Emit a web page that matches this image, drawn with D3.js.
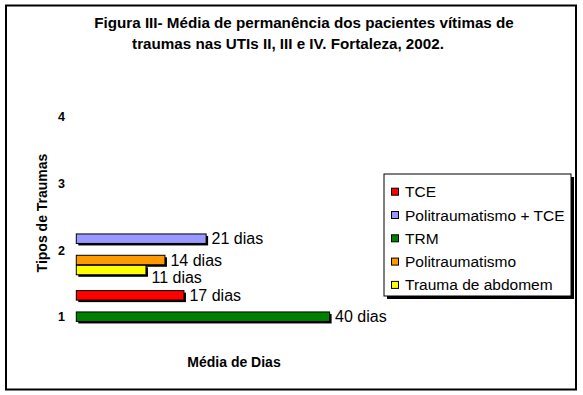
<!DOCTYPE html>
<html>
<head>
<meta charset="utf-8">
<script src="https://cdn.jsdelivr.net/npm/d3@7"></script>
<style>
  html, body { margin: 0; padding: 0; background: #fff; }
  svg { display: block; font-family: "Liberation Sans", Arial, sans-serif; }
</style>
</head>
<body>
<script>
// ---- Data ----
const titleLines = ["Figura III- Média de permanência dos pacientes vítimas de",
                    "traumas nas UTIs II, III e IV. Fortaleza, 2002."];
const seriesNames = ["TCE", "Politraumatismo + TCE", "TRM", "Politraumatismo", "Trauma de abdomem"];
const seriesColors = ["#FF0000", "#9999FF", "#008000", "#FF9900", "#FFFF00"];
const seriesDays = [17, 20.5, 40, 14, 11];          // Média de dias
const seriesType = [1.32, 2.17, 1.0, 1.85, 1.70];   // position on "Tipos de Traumas" axis
const yTicks = [1, 2, 3, 4];
const yTitle = "Tipos de Traumas";
const xTitle = "Média de Dias";
const labelSuffix = " dias";

// ---- Setup ----
const W = 583, H = 395;
const svg = d3.select("body").append("svg").attr("width", W).attr("height", H);

// outer frame
svg.append("rect").attr("x", 6).attr("y", 5.5).attr("width", 570).attr("height", 384)
  .attr("fill", "#fff").attr("stroke", "#000").attr("stroke-width", 2);

// title
const titleX = [304, 288];
const titleY = [28, 48.5];
titleLines.forEach((t, i) => {
  svg.append("text").attr("x", titleX[i]).attr("y", titleY[i])
    .attr("text-anchor", "middle").attr("font-weight", "bold").attr("font-size", 15.2)
    .text(t);
});

// scales
const x = d3.scaleLinear().domain([0, 40]).range([76.3, 329.6]);
const y = d3.scaleLinear().domain([1, 4]).range([316.7, 116.7]);
const barH = 9.5;

// y axis (labels only)
const yAxis = svg.append("g").attr("transform", "translate(68,0)")
  .call(d3.axisLeft(y).tickValues(yTicks).tickSize(0).tickPadding(3).tickFormat(d3.format("d")));
yAxis.select(".domain").remove();
yAxis.selectAll("text").attr("font-family", "Liberation Sans, Arial, sans-serif")
  .attr("font-weight", "bold").attr("font-size", 12.5).attr("fill", "#000");

// axis titles
svg.append("text").attr("transform", `translate(47,213) rotate(-90)`)
  .attr("text-anchor", "middle").attr("font-weight", "bold").attr("font-size", 14)
  .text(yTitle);
svg.append("text").attr("x", 234).attr("y", 367)
  .attr("text-anchor", "middle").attr("font-weight", "bold").attr("font-size", 14)
  .text(xTitle);

// bars
const data = seriesNames.map((n, i) => ({ name: n, color: seriesColors[i], v: seriesDays[i], t: seriesType[i] }));
const gBars = svg.append("g");
data.forEach(d => {
  const y0 = y(d.t) - barH / 2;
  gBars.append("rect").attr("x", x(0) + 2).attr("y", y0 + 2)
    .attr("width", x(d.v) - x(0)).attr("height", barH).attr("fill", "#000");
  gBars.append("rect").attr("x", x(0)).attr("y", y0)
    .attr("width", x(d.v) - x(0)).attr("height", barH)
    .attr("fill", d.color).attr("stroke", "#000").attr("stroke-width", 1);
});

// data labels (avoid overlap by pushing down)
const sorted = data.slice().sort((a, b) => y(a.t) - y(b.t));
let lastY = -Infinity;
sorted.forEach(d => {
  let ly = y(d.t);
  if (ly - lastY < 16) ly = lastY + 17;
  lastY = ly;
  svg.append("text").attr("x", x(d.v) + 5.5).attr("y", ly).attr("dy", "0.36em")
    .attr("font-size", 16).text(Math.round(d.v) + labelSuffix);
});

// legend
const lg = svg.append("g").attr("transform", "translate(384,174)");
lg.append("rect").attr("x", 3).attr("y", 3).attr("width", 187).attr("height", 122).attr("fill", "#000");
lg.append("rect").attr("x", 0).attr("y", 0).attr("width", 187).attr("height", 122)
  .attr("fill", "#fff").attr("stroke", "#000").attr("stroke-width", 1);
seriesNames.forEach((n, i) => {
  const cy = 17.7 + i * 23.3;
  lg.append("rect").attr("x", 7.5).attr("y", cy - 3.5).attr("width", 7).attr("height", 7)
    .attr("fill", seriesColors[i]).attr("stroke", "#000").attr("stroke-width", 1);
  lg.append("text").attr("x", 21).attr("y", cy).attr("dy", "0.36em")
    .attr("font-size", 15.5).text(n);
});
</script>
</body>
</html>
